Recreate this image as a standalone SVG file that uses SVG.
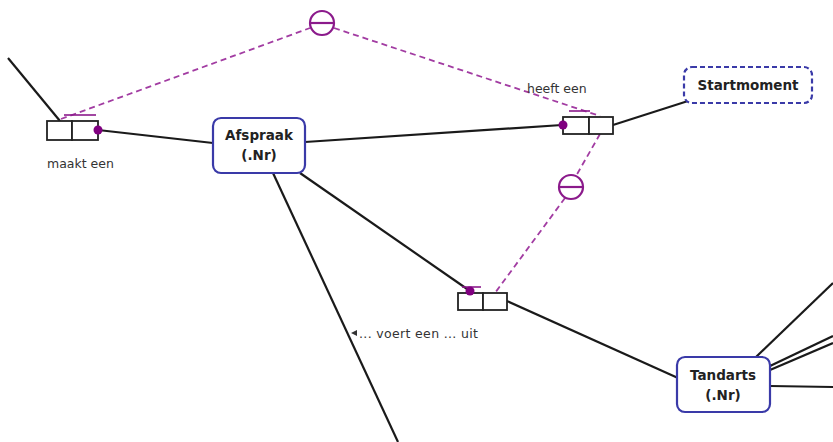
<svg xmlns="http://www.w3.org/2000/svg" width="833" height="442" viewBox="0 0 833 442">
<style>
.ln{stroke:#1a1a1a;stroke-width:2.2;fill:none}
.ent{fill:#fff;stroke:#3a3aa8;stroke-width:2.2}
.vt{fill:#fff;stroke:#3a3aa8;stroke-width:2.2;stroke-dasharray:5 3}
.nm{font-family:"DejaVu Sans",Verdana,sans-serif;font-weight:bold;font-size:13.5px;fill:#222;text-anchor:middle}
.lb{font-family:"DejaVu Sans",Verdana,sans-serif;font-size:12.5px;fill:#333}
.role{fill:#fff;stroke:#222;stroke-width:1.8}
.con{stroke:#8b1a8b;stroke-width:2.2;fill:none}
.bar{stroke:#8b1a8b;stroke-width:1.6;fill:none}
.dash{stroke:#a23ca2;stroke-width:1.8;fill:none;stroke-dasharray:6 4}
.dot{fill:#800080}
</style>
<rect width="833" height="442" fill="#fff"/>
<g id="connectors">
<line class="ln" x1="8" y1="58" x2="60" y2="121"/>
<line class="ln" x1="98" y1="130" x2="213" y2="143"/>
<line class="ln" x1="305" y1="142" x2="562" y2="125"/>
<line class="ln" x1="613" y1="125" x2="688" y2="101"/>
<line class="ln" x1="300" y1="173" x2="470" y2="291"/>
<line class="ln" x1="507" y1="301" x2="678" y2="378"/>
<line class="ln" x1="273" y1="173" x2="398" y2="442"/>
<line class="ln" x1="756" y1="357" x2="833" y2="283"/>
<line class="ln" x1="770" y1="366" x2="833" y2="336"/>
<line class="ln" x1="770" y1="370" x2="833" y2="343"/>
<line class="ln" x1="770" y1="386" x2="833" y2="387"/>
<path class="dash" d="M61 119 L310 28"/>
<path class="dash" d="M334 28 L600 116"/>
<path class="dash" d="M600 134 L576 176"/>
<path class="dash" d="M565 198 L495 293"/>
</g>
<g id="excl1">
<circle class="con" cx="322" cy="23" r="12"/>
<line class="con" x1="310" y1="23" x2="334" y2="23"/>
</g>
<g id="excl2">
<circle class="con" cx="571" cy="187" r="12"/>
<line class="con" x1="559" y1="187" x2="583" y2="187"/>
</g>
<g id="ft-maakt-een">
<rect class="role" x="47" y="121" width="25" height="19"/>
<rect class="role" x="72" y="121" width="26" height="19"/>
<line class="bar" x1="64" y1="115" x2="96" y2="115"/>
<circle class="dot" cx="98" cy="130" r="4.5"/>
<text class="lb" x="47" y="168">maakt een</text>
</g>
<g id="ft-heeft-een">
<rect class="role" x="563" y="117" width="26" height="17"/>
<rect class="role" x="589" y="117" width="24" height="17"/>
<line class="bar" x1="569" y1="111" x2="590" y2="111"/>
<circle class="dot" cx="563" cy="125" r="4.5"/>
<text class="lb" x="527" y="93">heeft een</text>
</g>
<g id="ft-voert-uit">
<rect class="role" x="458" y="293" width="25" height="17"/>
<rect class="role" x="483" y="293" width="24" height="17"/>
<line class="bar" x1="462" y1="287" x2="481" y2="287"/>
<circle class="dot" cx="470" cy="291" r="4.5"/>
<path d="M351 333 L357 330 L357 336 Z" fill="#333"/>
<text class="lb" x="359" y="338" textLength="119">... voert een ... uit</text>
</g>
<g id="afspraak">
<rect class="ent" x="213" y="118" width="92" height="55" rx="8"/>
<text class="nm" x="259" y="140">Afspraak</text>
<text class="nm" x="259" y="160">(.Nr)</text>
</g>
<g id="startmoment">
<rect class="vt" x="684" y="67" width="128" height="36" rx="8"/>
<text class="nm" x="748" y="90">Startmoment</text>
</g>
<g id="tandarts">
<rect class="ent" x="677" y="357" width="93" height="55" rx="8"/>
<text class="nm" x="723" y="380">Tandarts</text>
<text class="nm" x="723" y="400">(.Nr)</text>
</g>
</svg>
